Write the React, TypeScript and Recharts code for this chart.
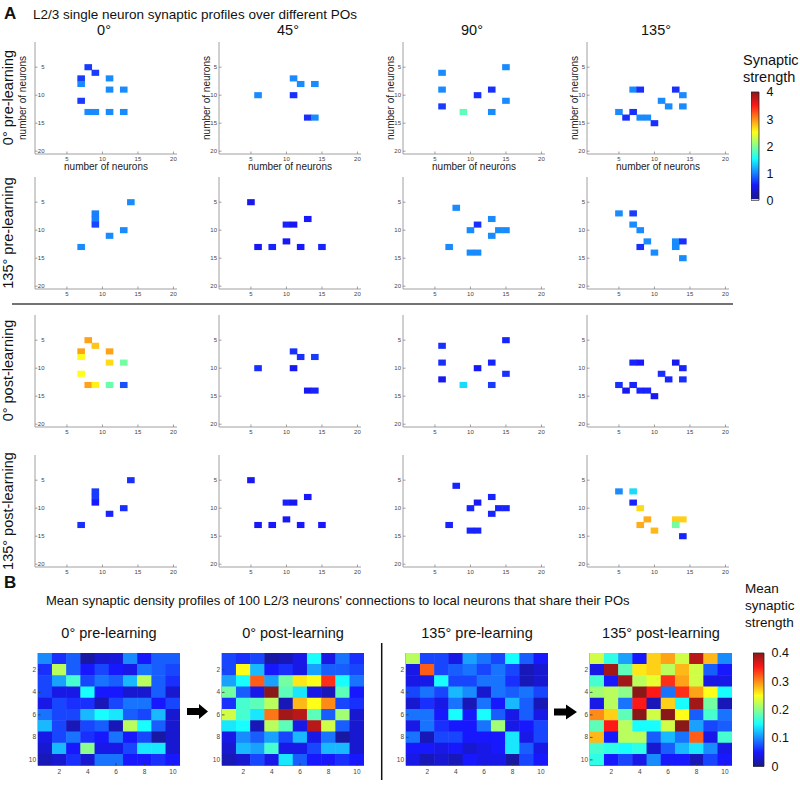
import React from 'react';
import { ScatterChart, Scatter, XAxis, YAxis, BarChart, Bar } from 'recharts';

const FONT = '"Liberation Sans", Arial, Helvetica, sans-serif';

type Triple = [number, number, number];

// ---------- Panel A data: [neuron column, neuron row, synaptic strength] ----------
const pre0_po0: Triple[] = [[8,5,0.65],[9,6,0.65],[7,7,0.65],[7,8,1.0],[11,7,1.0],[11,9,1.0],[13,9,1.0],[7,11,0.65],[8,13,1.0],[9,13,1.0],[11,13,1.0],[13,13,1.0]];
const pre0_po45: Triple[] = [[6,10,1.0],[11,7,1.0],[12,8,1.0],[14,8,1.0],[11,10,0.6],[13,14,0.6],[14,14,1.0]];
const pre0_po90: Triple[] = [[6,6,1.0],[6,9,1.0],[6,12,0.65],[9,13,1.8],[11,10,0.6],[13,9,0.6],[13,13,1.0],[15,5,1.0],[15,11,1.0]];
const pre0_po135: Triple[] = [[7,9,1.0],[8,9,0.6],[13,9,0.6],[14,10,1.0],[11,11,1.0],[12,12,1.0],[14,12,1.0],[5,13,1.0],[7,13,0.6],[6,14,0.6],[8,14,1.0],[9,14,1.0],[10,15,0.6]];

const pre135_po0: Triple[] = [[14,5,1.0],[9,7,0.95],[9,8,0.95],[9,9,0.7],[13,10,1.0],[11,11,1.0],[7,13,1.0]];
const pre135_po45: Triple[] = [[5,5,0.45],[13,8,0.5],[10,9,0.55],[11,9,0.45],[10,12,0.45],[6,13,0.45],[8,13,0.55],[12,13,0.5],[15,13,0.55]];
const pre135_po90: Triple[] = [[8,6,1.0],[13,8,1.0],[11,9,0.6],[10,10,1.0],[14,10,1.0],[15,10,1.0],[13,11,1.0],[7,13,1.0],[10,14,1.0],[11,14,1.0]];
const pre135_po135: Triple[] = [[5,7,1.0],[7,7,0.65],[7,9,1.0],[8,10,1.0],[9,12,1.0],[8,13,0.6],[10,14,1.0],[13,12,1.0],[13,13,1.0],[14,12,0.6],[14,15,1.0]];

const post0_po0: Triple[] = [[8,5,2.9],[9,6,2.75],[7,7,2.9],[7,8,2.5],[11,7,2.9],[11,9,2.65],[13,9,1.9],[7,11,2.5],[8,13,2.9],[9,13,2.55],[11,13,1.85],[13,13,0.75]];
const post0_po45: Triple[] = [[6,10,0.6],[11,7,0.6],[12,8,0.6],[14,8,0.65],[11,10,0.45],[13,14,0.45],[14,14,0.55]];
const post0_po90: Triple[] = [[6,6,0.6],[6,9,0.6],[6,12,0.45],[9,13,1.35],[11,10,0.45],[13,9,0.55],[13,13,0.65],[15,5,0.55],[15,11,0.6]];
const post0_po135: Triple[] = [[7,9,0.55],[8,9,0.5],[13,9,0.45],[14,10,0.55],[11,11,0.6],[12,12,0.55],[14,12,0.6],[5,13,0.6],[7,13,0.55],[6,14,0.45],[8,14,0.55],[9,14,0.55],[10,15,0.45]];

const post135_po0: Triple[] = [[14,5,0.6],[9,7,0.65],[9,8,0.65],[9,9,0.5],[13,10,0.6],[11,11,0.55],[7,13,0.6]];
const post135_po45: Triple[] = [[5,5,0.45],[13,8,0.5],[10,9,0.55],[11,9,0.45],[10,12,0.45],[6,13,0.45],[8,13,0.5],[12,13,0.5],[15,13,0.5]];
const post135_po90: Triple[] = [[8,6,0.55],[13,8,0.55],[11,9,0.45],[10,10,0.55],[14,10,0.55],[15,10,0.55],[13,11,0.55],[7,13,0.55],[10,14,0.55],[11,14,0.55]];
const post135_po135: Triple[] = [[5,7,1.0],[7,7,1.35],[7,9,0.55],[8,10,2.65],[9,12,2.85],[8,13,2.85],[10,14,2.8],[13,12,2.7],[13,13,1.9],[14,12,2.7],[14,15,0.55]];

// ---------- Panel B data: 10x10 mean synaptic strength ----------
const heat0pre: number[][] = [
  [0.10,0.06,0.08,0.01,0.03,0.035,0.10,0.05,0.08,0.08],
  [0.06,0.22,0.08,0.05,0.07,0.05,0.04,0.09,0.08,0.07],
  [0.07,0.11,0.17,0.07,0.09,0.08,0.12,0.22,0.08,0.06],
  [0.07,0.04,0.04,0.15,0.05,0.05,0.03,0.03,0.08,0.03],
  [0.04,0.07,0.06,0.06,0.02,0.07,0.09,0.09,0.05,0.07],
  [0.09,0.07,0.07,0.12,0.15,0.14,0.08,0.07,0.12,0.03],
  [0.12,0.07,0.02,0.07,0.08,0.02,0.22,0.15,0.08,0.03],
  [0.04,0.07,0.09,0.06,0.05,0.09,0.05,0.07,0.01,0.03],
  [0.03,0.12,0.05,0.20,0.04,0.04,0.07,0.14,0.14,0.03],
  [0.02,0.03,0.06,0.03,0.09,0.09,0.05,0.05,0.06,0.05],
];
const heat0post: number[][] = [
  [0.07,0.06,0.07,0.01,0.02,0.04,0.15,0.04,0.09,0.06],
  [0.07,0.25,0.12,0.05,0.06,0.04,0.11,0.08,0.08,0.07],
  [0.11,0.15,0.32,0.11,0.19,0.26,0.25,0.34,0.15,0.09],
  [0.19,0.08,0.04,0.40,0.18,0.14,0.04,0.02,0.18,0.05],
  [0.06,0.17,0.18,0.22,0.02,0.28,0.25,0.30,0.07,0.06],
  [0.23,0.17,0.14,0.31,0.39,0.38,0.18,0.08,0.21,0.03],
  [0.14,0.15,0.02,0.22,0.18,0.04,0.38,0.23,0.08,0.03],
  [0.04,0.10,0.08,0.11,0.07,0.12,0.04,0.09,0.01,0.03],
  [0.03,0.12,0.11,0.17,0.04,0.04,0.07,0.12,0.12,0.03],
  [0.02,0.03,0.07,0.04,0.14,0.08,0.05,0.05,0.06,0.05],
];
const heat135pre: number[][] = [
  [0.22,0.07,0.07,0.04,0.11,0.09,0.07,0.15,0.08,0.05],
  [0.04,0.32,0.07,0.08,0.09,0.07,0.09,0.07,0.02,0.03],
  [0.04,0.04,0.15,0.07,0.07,0.09,0.09,0.06,0.02,0.03],
  [0.07,0.09,0.07,0.12,0.10,0.03,0.09,0.08,0.09,0.07],
  [0.03,0.06,0.04,0.09,0.02,0.09,0.05,0.12,0.08,0.02],
  [0.09,0.09,0.05,0.15,0.05,0.15,0.08,0.04,0.08,0.04],
  [0.04,0.09,0.06,0.05,0.05,0.09,0.21,0.04,0.05,0.07],
  [0.09,0.02,0.07,0.07,0.05,0.05,0.05,0.14,0.04,0.07],
  [0.05,0.05,0.04,0.05,0.03,0.04,0.05,0.14,0.08,0.04],
  [0.04,0.02,0.03,0.02,0.05,0.04,0.04,0.01,0.07,0.05],
];
const heat135post: number[][] = [
  [0.23,0.16,0.11,0.05,0.27,0.29,0.23,0.38,0.28,0.10],
  [0.04,0.39,0.18,0.26,0.27,0.22,0.28,0.23,0.08,0.05],
  [0.17,0.05,0.39,0.22,0.24,0.34,0.29,0.23,0.04,0.04],
  [0.21,0.22,0.20,0.40,0.35,0.09,0.34,0.29,0.25,0.15],
  [0.04,0.22,0.09,0.35,0.02,0.27,0.15,0.39,0.19,0.02],
  [0.30,0.27,0.18,0.40,0.23,0.40,0.25,0.08,0.17,0.09],
  [0.18,0.35,0.22,0.15,0.15,0.23,0.40,0.11,0.07,0.08],
  [0.28,0.05,0.22,0.22,0.08,0.12,0.09,0.32,0.04,0.17],
  [0.17,0.16,0.15,0.16,0.03,0.08,0.12,0.14,0.10,0.04],
  [0.16,0.05,0.07,0.04,0.10,0.05,0.05,0.02,0.07,0.05],
];

// ---------- labels & ticks ----------
const gridTicksA = [5, 10, 15, 20];
const gridTicksB = [2, 4, 6, 8, 10];
const strengthTicksA = [0, 1, 2, 3, 4];
const strengthTicksB = [0, 0.1, 0.2, 0.3, 0.4];
const columnHeaders = ['0°', '45°', '90°', '135°'];
const rowLabels = ['0° pre-learning', '135° pre-learning', '0° post-learning', '135° post-learning'];
const heatTitles = ['0° pre-learning', '0° post-learning', '135° pre-learning', '135° post-learning'];
const titleA = 'L2/3 single neuron synaptic profiles over different POs';
const titleB = "Mean synaptic density profiles of 100 L2/3 neurons' connections to local neurons that share their POs";
const axisLabel = 'number of neurons';

const panelARows: Triple[][][] = [
  [pre0_po0, pre0_po45, pre0_po90, pre0_po135],
  [pre135_po0, pre135_po45, pre135_po90, pre135_po135],
  [post0_po0, post0_po45, post0_po90, post0_po135],
  [post135_po0, post135_po45, post135_po90, post135_po135],
];
const panelBHeats = [heat0pre, heat0post, heat135pre, heat135post];

// ---------- layout ----------
const colLeftA = [35, 219, 403, 587];
const rowTopA = [41.5, 177, 314.5, 455];
const plotWA = 142;
const plotHA = 112;
const colLeftB = [38, 222, 406, 590];
const topB = 652.5;
const plotWB = 142;
const plotHB = 112.5;

const FADE = 0.1;
function jetRGB(t: number): [number, number, number] {
  const c = (x: number) => Math.max(0, Math.min(1, x));
  const tt = c(t);
  return [c(1.5 - Math.abs(4 * tt - 3)), c(1.5 - Math.abs(4 * tt - 2)), c(1.5 - Math.abs(4 * tt - 1))];
}
function jet(t: number): string {
  const [r, g, b] = jetRGB(t).map((x) => x * (1 - FADE) + FADE * 0.95);
  return `rgb(${Math.round(r * 255)},${Math.round(g * 255)},${Math.round(b * 255)})`;
}

type CellPlotProps = {
  left: number; top: number; w: number; h: number; n: number;
  ticks: number[]; cells: Triple[]; vmax: number;
  showLabels: boolean; labelInside: boolean;
  boxColor: string; tickColor: string; tickFont: number; tickGap: number;
};

function CellPlot(p: CellPlotProps) {
  const { left, top, w, h, n, ticks, cells, vmax, showLabels, labelInside, boxColor, tickColor, tickFont, tickGap } = p;
  const wL = 26;
  const hB = showLabels ? 22 : 12;
  const mR = 8;
  const mT = 2;
  const data = cells.map(([x, y, v]) => ({ x, y, v }));
  const cw = w / n;
  const ch = h / n;
  const tl = 2.5;
  const shape = (s: any) => (
    <rect x={s.cx - cw / 2 - 0.25} y={s.cy - ch / 2 - 0.25} width={cw + 0.5} height={ch + 0.5}
      fill={jet(s.payload.v / vmax)} stroke="none" />
  );
  const bottomTick = (s: any) => (
    <g>
      <line x1={s.x} x2={s.x} y1={s.y} y2={s.y - tl} stroke={tickColor} strokeWidth={0.8} />
      <text x={s.x} y={s.y + tickGap} textAnchor="middle" fontSize={tickFont} fill="#444" fontFamily={FONT}>{s.payload.value}</text>
    </g>
  );
  const topTick = (s: any) => (
    <line x1={s.x} x2={s.x} y1={s.y} y2={s.y + tl} stroke={tickColor} strokeWidth={0.8} />
  );
  const leftTick = (s: any) => (
    <g>
      <line x1={s.x} x2={s.x + tl} y1={s.y} y2={s.y} stroke={tickColor} strokeWidth={0.8} />
      <text x={labelInside ? s.x + 9.5 : s.x - 2} y={s.y + 2} textAnchor="end" fontSize={tickFont} fill="#444" fontFamily={FONT}>{s.payload.value}</text>
    </g>
  );
  const rightTick = (s: any) => (
    <line x1={s.x} x2={s.x - tl} y1={s.y} y2={s.y} stroke={tickColor} strokeWidth={0.8} />
  );
  const labelStyle = { fontSize: 10, fill: '#222', fontFamily: FONT };
  return (
    <div style={{ position: 'absolute', left: left - wL, top: top - mT }}>
      <ScatterChart width={wL + w + mR} height={mT + h + hB} margin={{ top: mT, right: mR, bottom: 0, left: 0 }}>
        <XAxis xAxisId="b" type="number" dataKey="x" domain={[0.5, n + 0.5]} ticks={ticks} interval={0}
          orientation="bottom" height={hB} axisLine={{ stroke: boxColor }} tickLine={false} tickSize={0} tickMargin={0}
          tick={bottomTick} allowDataOverflow
          label={showLabels ? { value: axisLabel, position: 'insideBottom', offset: hB - 16, ...labelStyle } : undefined} />
        <XAxis xAxisId="t" type="number" dataKey="x" domain={[0.5, n + 0.5]} ticks={ticks} interval={0}
          orientation="top" height={0} axisLine={{ stroke: boxColor }} tickLine={false} tickSize={0} tickMargin={0}
          tick={topTick} allowDataOverflow />
        <YAxis yAxisId="l" type="number" dataKey="y" domain={[0.5, n + 0.5]} ticks={ticks} interval={0} reversed
          orientation="left" width={wL} axisLine={{ stroke: boxColor }} tickLine={false} tickSize={0} tickMargin={0}
          tick={leftTick} allowDataOverflow
          label={showLabels ? { value: axisLabel, angle: -90, position: 'insideLeft', offset: wL - 13, style: { textAnchor: 'middle' }, ...labelStyle } : undefined} />
        <YAxis yAxisId="r" type="number" dataKey="y" domain={[0.5, n + 0.5]} ticks={ticks} interval={0} reversed
          orientation="right" width={0} axisLine={{ stroke: boxColor }} tickLine={false} tickSize={0} tickMargin={0}
          tick={rightTick} allowDataOverflow />
        <Scatter xAxisId="b" yAxisId="l" data={data} shape={shape} isAnimationActive={false} />
      </ScatterChart>
    </div>
  );
}

function ColorBar(p: { left: number; top: number; w: number; h: number; vmax: number; ticks: number[]; gradId: string; whiteBottom: boolean; fmt: (v: number) => string }) {
  const { left, top, w, h, vmax, ticks, gradId, whiteBottom, fmt } = p;
  const data = [{ name: 'cb', v: vmax }];
  const N = 40;
  const stops: React.ReactNode[] = [];
  const start = whiteBottom ? 1 / 64 : 0;
  if (whiteBottom) {
    stops.push(<stop key="w0" offset={0} stopColor="#ffffff" />);
    stops.push(<stop key="w1" offset={start} stopColor="#ffffff" />);
  }
  for (let i = 0; i <= N; i++) {
    const f = i / N;
    const off = start + (1 - start) * f;
    stops.push(<stop key={'s' + i} offset={off} stopColor={jet(whiteBottom ? Math.max(f, 1 / 64) : f)} />);
  }
  const mT = 8;
  return (
    <div style={{ position: 'absolute', left, top: top - mT }}>
      <BarChart width={w + 32} height={h + 2 * mT} data={data} margin={{ top: mT, right: 0, bottom: mT, left: 0 }} barCategoryGap={0}>
        <defs>
          <linearGradient id={gradId} x1="0" y1="1" x2="0" y2="0">{stops}</linearGradient>
        </defs>
        <XAxis dataKey="name" hide />
        <YAxis type="number" orientation="right" domain={[0, vmax]} ticks={ticks} interval={0} width={32}
          axisLine={false} tickLine={false} tickMargin={2} tickFormatter={fmt}
          tick={{ fontSize: 12.5, fill: '#111', fontFamily: FONT }} />
        <Bar dataKey="v" fill={`url(#${gradId})`} stroke="#222" strokeWidth={0.8} isAnimationActive={false} />
      </BarChart>
    </div>
  );
}

function Overlay() {
  const t = { fontFamily: FONT, fill: '#111' } as const;
  const rowCenters = rowTopA.map((r) => r + plotHA / 2);
  return (
    <svg width={800} height={786} style={{ position: 'absolute', left: 0, top: 0 }}>
      <text x={4} y={19} fontSize={17} fontWeight="bold" {...t}>A</text>
      <text x={33} y={19} fontSize={13.5} {...t}>{titleA}</text>
      {columnHeaders.map((c, i) => (
        <text key={c} x={colLeftA[i] + plotWA / 2 - 2} y={35} fontSize={14.5} textAnchor="middle" {...t}>{c}</text>
      ))}
      {rowLabels.map((r, i) => (
        <text key={r} transform={`translate(8, ${rowCenters[i]}) rotate(-90)`} fontSize={14.5} textAnchor="middle" dy="0.35em" {...t}>{r}</text>
      ))}
      <line x1={12} x2={733} y1={304} y2={304} stroke="#444" strokeWidth={1.6} />
      <text x={743} y={65} fontSize={14.5} {...t}>Synaptic</text>
      <text x={743} y={82} fontSize={14.5} {...t}>strength</text>

      <text x={4} y={588} fontSize={17} fontWeight="bold" {...t}>B</text>
      <text x={46} y={605} fontSize={13} {...t}>{titleB}</text>
      {heatTitles.map((h, i) => (
        <text key={h} x={colLeftB[i] + plotWB / 2} y={638} fontSize={14.5} textAnchor="middle" {...t}>{h}</text>
      ))}
      <text x={745} y={593} fontSize={13.5} {...t}>Mean</text>
      <text x={745} y={610} fontSize={13.5} {...t}>synaptic</text>
      <text x={745} y={627} fontSize={13.5} {...t}>strength</text>
      <polygon points="187,708 199,708 199,704 208,711.5 199,719 199,715 187,715" fill="#000" />
      <polygon points="554,708.5 566,708.5 566,704.5 577,712 566,719.5 566,715.5 554,715.5" fill="#000" />
      <line x1={381.7} x2={381.7} y1={643} y2={780} stroke="#111" strokeWidth={1.5} />
    </svg>
  );
}

export default function App() {
  return (
    <div style={{ position: 'absolute', left: 0, top: 0, width: 800, height: 786, background: '#fff', fontFamily: FONT, overflow: 'hidden' }}>
      <Overlay />
      {panelARows.map((row, ri) =>
        row.map((cells, ci) => (
          <CellPlot key={`a-${ri}-${ci}`} left={colLeftA[ci]} top={rowTopA[ri]} w={plotWA} h={plotHA} n={20}
            ticks={gridTicksA} cells={cells} vmax={4} showLabels={ri === 0} labelInside={ci === 0}
            boxColor="#a0a0a0" tickColor="#888" tickFont={6} tickGap={6.5} />
        ))
      )}
      {panelBHeats.map((hm, i) => (
        <CellPlot key={`b-${i}`} left={colLeftB[i]} top={topB} w={plotWB} h={plotHB} n={10}
          ticks={gridTicksB} vmax={0.4} showLabels={false} labelInside={false}
          cells={hm.flatMap((row, r) => row.map((v, c) => [c + 1, r + 1, v] as Triple))}
          boxColor="#777" tickColor="#333" tickFont={6.5} tickGap={8} />
      ))}
      <ColorBar left={750.7} top={91.7} w={7.6} h={108.3} vmax={4} ticks={strengthTicksA} gradId="cbA" whiteBottom
        fmt={(v) => String(v)} />
      <ColorBar left={752.7} top={653.3} w={10.6} h={113.4} vmax={0.4} ticks={strengthTicksB} gradId="cbB" whiteBottom={false}
        fmt={(v) => (v === 0 ? '0' : v.toFixed(1))} />
    </div>
  );
}
